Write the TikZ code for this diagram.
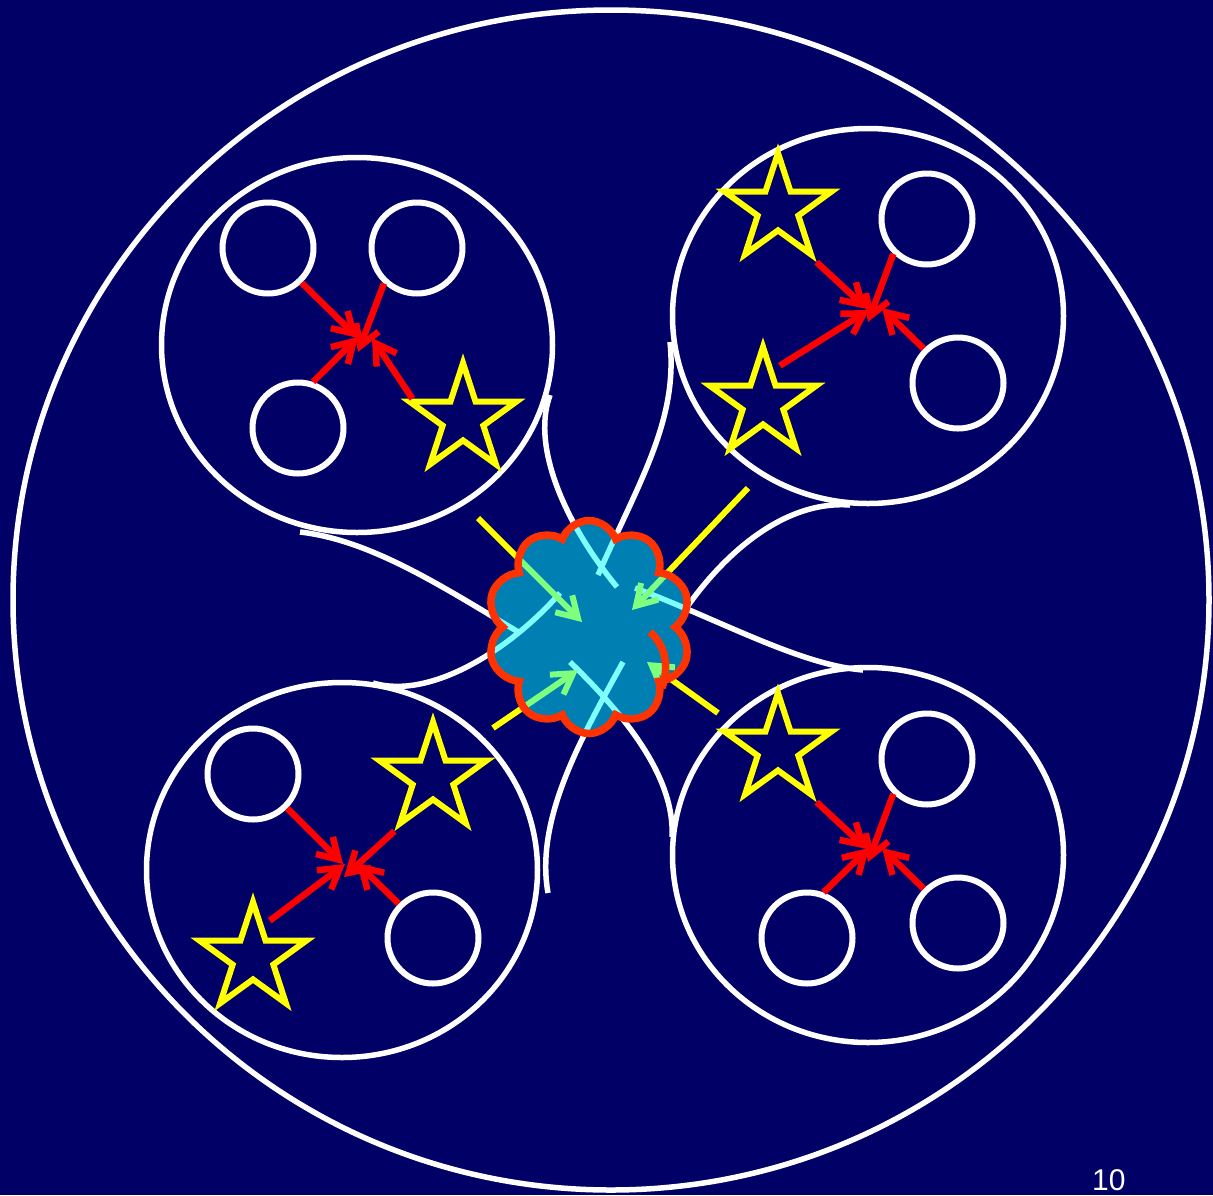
\documentclass[tikz,border=0pt]{standalone}
\usepackage{fontspec}
\setmainfont{Liberation Sans}
\usetikzlibrary{shapes.geometric,shapes.symbols,arrows.meta,calc}
\definecolor{bgnavy}{RGB}{0,0,102}
\definecolor{arrred}{RGB}{255,0,0}
\definecolor{staryel}{RGB}{255,255,0}
\definecolor{cloudedge}{RGB}{255,51,0}
\definecolor{cloudfill}{RGB}{0,255,255}
\begin{document}
\begin{tikzpicture}[x=1pt,y=-1pt,
  wline/.style={white,line width=5.5pt},
  grp/.style={ellipse,draw=white,line width=5.5pt,minimum width=391pt,minimum height=375pt,inner sep=0pt},
  smallc/.style={circle,draw=white,line width=6pt,minimum size=91pt,inner sep=0pt},
  ystar/.style={star,star points=5,star point ratio=2.618,draw=staryel,line width=6pt,minimum size=112pt,inner sep=0pt},
  redarr/.style={arrred,line width=6.5pt,-{Straight Barb[length=20pt,width=24pt]}},
  yelarr/.style={staryel,line width=6pt,-{Straight Barb[length=20pt,width=24pt]}}]
\fill[bgnavy] (0,0) rectangle (1213,1195);
\useasboundingbox (0,0) rectangle (1213,1195);
\clip (0,0) rectangle (1213,1195);

% outer circle
\draw[wline] (611,600) ellipse [x radius=598, y radius=590];

% funnel curve end points
\coordinate (f1a) at (300,532); \coordinate (f1b) at (520,633);
\coordinate (f2a) at (550,395); \coordinate (f2b) at (617,587);
\coordinate (f3a) at (670,342); \coordinate (f3b) at (598,575);
\coordinate (f4a) at (850,505); \coordinate (f4b) at (687,607);
\coordinate (f5a) at (863,670); \coordinate (f5b) at (635,588);
\coordinate (f6a) at (672,837); \coordinate (f6b) at (570,662);
\coordinate (f7a) at (548,893); \coordinate (f7b) at (623,662);
\coordinate (f8a) at (373,683); \coordinate (f8b) at (560,593);

\draw[wline] (f1a) .. controls (370,540) and (440,585) .. (f1b);
\draw[wline] (f2a) .. controls (530,450) and (570,530) .. (f2b);
\draw[wline] (f3a) .. controls (678,420) and (640,480) .. (f3b);
\draw[wline] (f4a) .. controls (780,500) and (720,560) .. (f4b);
\draw[wline] (f5a) .. controls (800,665) and (720,620) .. (f5b);
\draw[wline] (f6a) .. controls (675,780) and (630,720) .. (f6b);
\draw[wline] (f7a) .. controls (535,820) and (580,740) .. (f7b);
\draw[wline] (f8a) .. controls (430,700) and (510,650) .. (f8b);

% group circles
\node[grp] (gTL) at (357,345) {};
\node[grp] (gTR) at (868,316) {};
\node[grp] (gBL) at (342,870) {};
\node[grp] (gBR) at (868,855) {};

% top-left group
\node[smallc] (tA) at (268,248) {};
\node[smallc] (tB) at (417,248) {};
\node[smallc] (tC) at (298,428) {};
\node[ystar] (tS) at (463,419) {};
\coordinate (tpA) at (358,338);
\coordinate (tpB) at (358,352);
\coordinate (tpC) at (358,337);
\coordinate (tpS) at (372,338);
\draw[redarr] (tA.314) -- (tpA);
\draw[redarr] (tB.227) -- (tpB);
\draw[redarr] (tC.72) -- (tpC);
\draw[redarr] ($(tS.outer point 2)!0.25!(tS.inner point 1)$) -- (tpS);

% top-right group
\node[smallc] (rA) at (927,219) {};
\node[smallc] (rB) at (958,383) {};
\node[ystar] (rS1) at (778,209) {};
\node[ystar] (rS2) at (763,403) {};
\coordinate (rpS1) at (867,309);
\coordinate (rpS2) at (869,310);
\coordinate (rpB) at (882,308);
\coordinate (rpA) at (868,322);
\draw[redarr] (rS1.outer point 4) -- (rpS1);
\draw[redarr] ($(rS2.inner point 5)+(2,-17)$) -- (rpS2);
\draw[redarr] (rB.135) -- (rpB);
\draw[redarr] (rA.226) -- (rpA);

% bottom-left group
\node[smallc] (lA) at (253,774) {};
\node[smallc] (lB) at (433,938) {};
\node[ystar] (lS1) at (433,778) {};
\node[ystar] (lS2) at (253,958) {};
\coordinate (lpA) at (343,864);
\coordinate (lpS2) at (345,864);
\coordinate (lpB) at (357,863);
\coordinate (lpS1) at (344,877);
\draw[redarr] (lA.315) -- (lpA);
\draw[redarr] ($(lS2.inner point 5)+(2,-17)$) -- (lpS2);
\draw[redarr] (lB.135) -- (lpB);
\draw[redarr] (lS1.outer point 3) -- (lpS1);

% bottom-right group
\node[smallc] (bA) at (927,759) {};
\node[smallc] (bB) at (807,938) {};
\node[smallc] (bC) at (958,923) {};
\node[ystar] (bS) at (778,749) {};
\coordinate (bpS) at (867,849);
\coordinate (bpA) at (868,862);
\coordinate (bpB) at (869,848);
\coordinate (bpC) at (882,848);
\draw[redarr] (bS.outer point 4) -- (bpS);
\draw[redarr] (bA.226) -- (bpA);
\draw[redarr] (bB.70) -- (bpB);
\draw[redarr] (bC.135) -- (bpC);

% yellow arrows into the cloud
\coordinate (y1a) at (478,518); \coordinate (y1b) at (582,622);
\coordinate (y2a) at (748,488); \coordinate (y2b) at (632,610);
\coordinate (y3a) at (493,728); \coordinate (y3b) at (578,670);
\coordinate (y4a) at (718,713); \coordinate (y4b) at (647,662);
\draw[yelarr] (y1a) -- (y1b);
\draw[yelarr] (y2a) -- (y2b);
\draw[yelarr] (y3a) -- (y3b);
\draw[yelarr] (y4a) -- (y4b);

% cloud
\node[cloud,cloud puffs=10,cloud puff arc=140,cloud ignores aspect,minimum width=204pt,minimum height=213pt,
  draw=cloudedge,line width=7.5pt,fill=cloudfill,fill opacity=0.5,inner sep=0pt] (cl) at (589,627) {};
\draw[cloudedge,line width=7.5pt] (650,632) .. controls (668,648) and (668,670) .. (662,688);

% page number
\node[text=white,font=\fontsize{30}{30}\selectfont,anchor=base west,inner sep=0pt] (pg) at (1092,1190) {10};
\end{tikzpicture}
\end{document}
